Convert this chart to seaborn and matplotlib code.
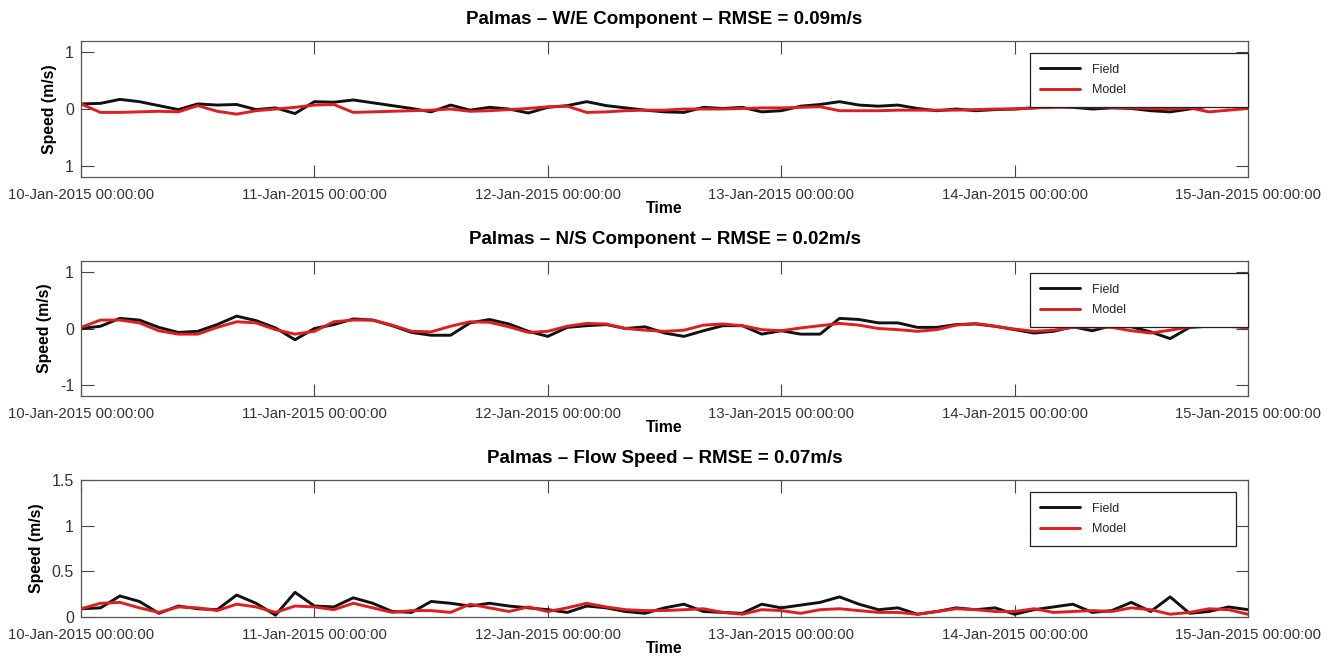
import numpy as np
import pandas as pd
import matplotlib
matplotlib.use("Agg")
import matplotlib.pyplot as plt
import matplotlib.dates as mdates
import seaborn as sns

# ---- data (2-hourly samples, 10-Jan-2015 00:00 to 15-Jan-2015 00:00) ----
start_time = "2015-01-10 00:00:00"
n_steps = 61
step = "2h"

we_field = [0.09, 0.10, 0.17, 0.13, 0.06, -0.01, 0.09, 0.07, 0.08, -0.01,
            0.02, -0.08, 0.13, 0.12, 0.16, 0.11, 0.06, 0.01, -0.05, 0.07,
            -0.02, 0.03, 0.00, -0.07, 0.03, 0.06, 0.13, 0.06, 0.02, -0.02,
            -0.05, -0.06, 0.03, 0.01, 0.03, -0.05, -0.03, 0.05, 0.08, 0.13,
            0.07, 0.05, 0.07, 0.01, -0.03, 0.00, -0.03, -0.01, 0.00, 0.02,
            0.04, 0.03, 0.00, 0.02, 0.01, -0.03, -0.05, 0.00, 0.05, 0.04, 0.10]
we_model = [0.09, -0.06, -0.06, -0.05, -0.04, -0.05, 0.06, -0.04, -0.09, -0.03,
            0.00, 0.03, 0.07, 0.08, -0.06, -0.05, -0.04, -0.03, -0.02, 0.00,
            -0.04, -0.03, -0.01, 0.01, 0.04, 0.05, -0.06, -0.05, -0.03, -0.02,
            -0.02, 0.00, 0.00, 0.00, 0.01, 0.02, 0.02, 0.03, 0.04, -0.03,
            -0.03, -0.03, -0.02, -0.02, -0.02, -0.02, -0.01, 0.00, 0.00, 0.02,
            0.03, 0.04, 0.04, 0.03, 0.02, 0.01, 0.00, 0.02, -0.05, -0.02, 0.01]

ns_field = [0.00, 0.04, 0.18, 0.15, 0.02, -0.07, -0.05, 0.07, 0.22, 0.14,
            0.01, -0.20, 0.00, 0.07, 0.17, 0.15, 0.05, -0.07, -0.12, -0.12,
            0.10, 0.16, 0.08, -0.05, -0.14, 0.02, 0.05, 0.07, 0.00, 0.03,
            -0.08, -0.14, -0.04, 0.05, 0.05, -0.10, -0.04, -0.10, -0.10, 0.18,
            0.16, 0.10, 0.10, 0.02, 0.02, 0.07, 0.08, 0.04, -0.02, -0.08,
            -0.05, 0.03, -0.04, 0.05, 0.03, -0.06, -0.18, 0.02, 0.04, 0.05, 0.02]
ns_model = [0.02, 0.15, 0.15, 0.10, -0.04, -0.10, -0.10, 0.02, 0.12, 0.10,
            -0.02, -0.10, -0.05, 0.12, 0.15, 0.15, 0.06, -0.05, -0.06, 0.04,
            0.12, 0.11, 0.03, -0.07, -0.05, 0.04, 0.09, 0.08, 0.00, -0.03,
            -0.05, -0.03, 0.06, 0.08, 0.05, -0.02, -0.04, 0.01, 0.05, 0.09,
            0.06, 0.00, -0.02, -0.05, -0.02, 0.06, 0.09, 0.04, -0.01, -0.05,
            -0.03, 0.02, 0.03, 0.02, -0.04, -0.08, -0.03, 0.03, 0.05, 0.04, 0.01]

sp_field = [0.09, 0.10, 0.23, 0.17, 0.04, 0.12, 0.09, 0.08, 0.24, 0.15,
            0.02, 0.27, 0.12, 0.11, 0.21, 0.15, 0.06, 0.05, 0.17, 0.15,
            0.12, 0.15, 0.12, 0.10, 0.08, 0.05, 0.12, 0.10, 0.06, 0.04,
            0.10, 0.14, 0.06, 0.05, 0.04, 0.14, 0.10, 0.13, 0.16, 0.22,
            0.14, 0.08, 0.10, 0.03, 0.06, 0.10, 0.08, 0.10, 0.03, 0.08,
            0.11, 0.14, 0.05, 0.07, 0.16, 0.06, 0.22, 0.04, 0.06, 0.11, 0.08]
sp_model = [0.09, 0.15, 0.16, 0.10, 0.05, 0.11, 0.10, 0.07, 0.14, 0.11,
            0.05, 0.12, 0.11, 0.08, 0.15, 0.10, 0.05, 0.07, 0.07, 0.05,
            0.14, 0.10, 0.06, 0.11, 0.06, 0.10, 0.15, 0.11, 0.08, 0.07,
            0.07, 0.08, 0.09, 0.05, 0.03, 0.08, 0.07, 0.04, 0.08, 0.09,
            0.07, 0.05, 0.05, 0.03, 0.06, 0.09, 0.08, 0.06, 0.06, 0.09,
            0.05, 0.06, 0.07, 0.06, 0.10, 0.08, 0.03, 0.05, 0.09, 0.08, 0.03]

titles = ["Palmas \u2013 W/E Component \u2013 RMSE = 0.09m/s",
          "Palmas \u2013 N/S Component \u2013 RMSE = 0.02m/s",
          "Palmas \u2013 Flow Speed \u2013 RMSE = 0.07m/s"]
series_names = ["Field", "Model"]
ytick_values = [[-1, 0, 1], [-1, 0, 1], [0, 0.5, 1, 1.5]]
ytick_labels = [["1", "0", "1"], ["-1", "0", "1"], ["0", "0.5", "1", "1.5"]]
ylims = [(-1.2, 1.2), (-1.2, 1.2), (0, 1.5)]
xlim_dates = ["2015-01-10", "2015-01-15"]
y_label = "Speed (m/s)"
x_label = "Time"

# ---- styling ----
sns.set_style("ticks")
plt.rcParams["font.family"] = ["Liberation Sans", "DejaVu Sans"]

times = pd.date_range(start_time, periods=n_steps, freq=step)
panels = [(we_field, we_model), (ns_field, ns_model), (sp_field, sp_model)]

fig = plt.figure(figsize=(13.33, 6.66), dpi=100)
rects = [[0.0608, 0.7342, 0.8754, 0.2042],
         [0.0608, 0.4054, 0.8754, 0.2027],
         [0.0608, 0.0736, 0.8754, 0.2057]]
legend_x0 = 0.813
legend_top = 0.912
legend_widths = [0.187, 0.187, 0.177]
colors = {"Field": "#111111", "Model": "#dd1f1f"}

for i, (field, model) in enumerate(panels):
    ax = fig.add_axes(rects[i])
    df = pd.DataFrame({"Time": np.concatenate([times, times]),
                       "value": np.concatenate([field, model]),
                       "series": [series_names[0]] * n_steps + [series_names[1]] * n_steps})
    sns.lineplot(data=df, x="Time", y="value", hue="series", palette=colors,
                 linewidth=2.1, ax=ax, legend=False, estimator=None)
    ax.set_xlim(pd.Timestamp(xlim_dates[0]), pd.Timestamp(xlim_dates[1]))
    ax.set_ylim(*ylims[i])
    ax.set_yticks(ytick_values[i])
    ax.set_yticklabels(ytick_labels[i])
    ax.xaxis.set_major_locator(mdates.DayLocator())
    ax.xaxis.set_major_formatter(mdates.DateFormatter("%d-%b-%Y %H:%M:%S"))
    ax.tick_params(axis="both", direction="in", length=9, width=0.8,
                   colors="#444444", labelcolor="#333333",
                   top=True, right=True)
    ax.tick_params(axis="x", pad=8, labelsize=10.7)
    ax.tick_params(axis="y", pad=5, labelsize=11.5)
    for s in ax.spines.values():
        s.set_color("#555555")
        s.set_linewidth(0.9)
    ax.set_ylabel(y_label, fontsize=11.4, fontweight="bold", labelpad=6, color="black")
    ax.set_xlabel(x_label, fontsize=11.4, fontweight="bold", labelpad=-1, color="black")
    ax.set_title(titles[i], fontsize=13.5, fontweight="bold", pad=12, color="black")

    handles = [plt.Line2D([], [], color=colors[n], linewidth=2.1) for n in series_names]
    leg = ax.legend(handles, series_names, loc="upper left",
                    bbox_to_anchor=(legend_x0, legend_top - 0.5, legend_widths[i], 0.5),
                    mode="expand",
                    fontsize=9, frameon=True, fancybox=False, framealpha=1,
                    edgecolor="#222222", handlelength=3.2, handletextpad=0.9,
                    labelspacing=0.7, borderpad=0.85, borderaxespad=0)
    leg.get_frame().set_linewidth(0.9)

fig.savefig("out.png", dpi=100)
